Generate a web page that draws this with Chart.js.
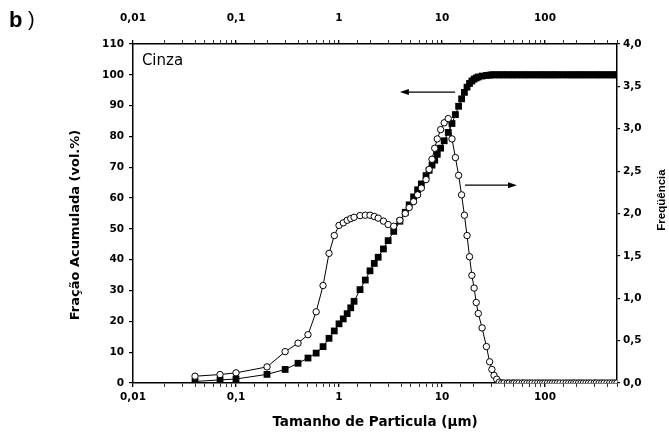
<!DOCTYPE html>
<html>
<head>
<meta charset="utf-8">
<script src="https://cdn.jsdelivr.net/npm/chart.js@4/dist/chart.umd.min.js"></script>
<style>
  body { margin: 0; background: #fff; }
  #chart { display: block; }
</style>
</head>
<body>
<canvas id="chart" width="669" height="439"></canvas>
<script>
// Tamanho de partícula (µm) - mesmo eixo para as duas séries
const sizes = [0.04, 0.07, 0.1, 0.2, 0.3, 0.4, 0.5, 0.6, 0.7, 0.8, 0.9,
  1.0, 1.1, 1.2, 1.3, 1.4, 1.6, 1.8, 2.0, 2.2, 2.4,
  2.7, 3.0, 3.4, 3.9, 4.4, 4.8, 5.3, 5.8, 6.3, 7.0,
  7.5, 8.0, 8.5, 9.0, 9.7, 10.5, 11.5, 12.5, 13.5, 14.5,
  15.5, 16.5, 17.5, 18.5, 19.5, 20.5, 21.5, 22.5, 24.5, 27,
  29, 30.5, 32, 34, 36,
  38, 40, 43, 45, 48, 50, 53, 56, 60, 63,
  67, 71, 75, 80, 85, 90, 95, 100, 106, 112,
  118, 125, 132, 140, 150, 160, 170, 180, 190, 200,
  212, 224, 236, 250, 265, 280, 300, 315, 335, 355,
  375, 400, 425, 450, 475, 500];

// Fração acumulada (vol.%)
const cumulative = [0.5, 1.0, 1.3, 2.8, 4.4, 6.4, 8.1, 9.7, 11.8, 14.5, 16.9,
  19.2, 20.8, 22.5, 24.4, 26.5, 30.3, 33.4, 36.4, 38.8, 40.8,
  43.5, 46.2, 49.2, 52.5, 55.4, 57.8, 60.4, 62.7, 64.6, 67.3,
  69.0, 70.7, 72.3, 74.2, 76.2, 78.6, 81.3, 84.2, 87.1, 89.8,
  92.2, 94.3, 96.0, 97.2, 98.0, 98.6, 99.0, 99.3, 99.6, 99.8,
  99.9, 100, 100, 100, 100,
  100, 100, 100, 100, 100, 100, 100, 100, 100, 100,
  100, 100, 100, 100, 100, 100, 100, 100, 100, 100,
  100, 100, 100, 100, 100, 100, 100, 100, 100, 100,
  100, 100, 100, 100, 100, 100, 100, 100, 100, 100,
  100, 100, 100, 100, 100, 100];

// Freqüência
const frequency = [0.08, 0.10, 0.12, 0.19, 0.37, 0.47, 0.57, 0.84, 1.15, 1.53, 1.74,
  1.86, 1.89, 1.92, 1.94, 1.955, 1.975, 1.98, 1.98, 1.965, 1.945,
  1.91, 1.87, 1.85, 1.92, 2.0, 2.07, 2.14, 2.22, 2.30, 2.40,
  2.52, 2.64, 2.77, 2.88, 2.99, 3.07, 3.12, 2.88, 2.66, 2.45,
  2.22, 1.98, 1.74, 1.49, 1.27, 1.12, 0.95, 0.82, 0.65, 0.43,
  0.25, 0.16, 0.09, 0.045, 0.01,
  0, 0, 0, 0, 0, 0, 0, 0, 0, 0,
  0, 0, 0, 0, 0, 0, 0, 0, 0, 0,
  0, 0, 0, 0, 0, 0, 0, 0, 0, 0,
  0, 0, 0, 0, 0, 0, 0, 0, 0, 0,
  0, 0, 0, 0, 0, 0];

// Ticks dos eixos
const xMin = 0.01, xMax = 500;
const leftTicks = { min: 0, max: 110, step: 10 };
const rightTicks = { min: 0, max: 4, step: 0.5 };

// Anotações (em unidades dos eixos x / y esquerdo)
const labelCinza = { x: 0.0122, y: 104.5, text: 'Cinza' };
const arrowLeft = { from: 13.4, to: 3.9, y: 94.4 };
const arrowRight = { from: 16.7, to: 53.5, y: 64.2 };

const FONT = "'Liberation Sans', Arial, sans-serif";
const WIDE = "'DejaVu Sans', sans-serif";

function decadeLabel(v) {
  const e = Math.log10(v);
  if (Math.abs(e - Math.round(e)) < 1e-6) return String(v).replace('.', ',');
  return '';
}

function isDecade(v) {
  const e = Math.log10(v);
  return Math.abs(e - Math.round(e)) < 1e-6;
}

// Textos e setas extras
const extras = {
  id: 'extras',
  beforeDraw(chart) {
    const c = chart.ctx;
    c.save();
    c.fillStyle = '#fff';
    c.fillRect(0, 0, chart.width, chart.height);
    c.restore();
  },
  afterDraw(chart) {
    const c = chart.ctx;
    const x = chart.scales.x, y = chart.scales.y;
    c.save();
    c.fillStyle = '#000';
    c.strokeStyle = '#000';

    // b)
    c.font = 'bold 22px ' + FONT;
    c.textBaseline = 'alphabetic';
    c.textAlign = 'left';
    c.fillText('b', 9, 27);
    c.font = '20px ' + FONT;
    c.fillText(')', 28, 26);

    // Cinza
    c.font = '15px ' + WIDE;
    c.textBaseline = 'middle';
    c.fillText(labelCinza.text, x.getPixelForValue(labelCinza.x), y.getPixelForValue(labelCinza.y));

    // Títulos verticais
    c.font = 'bold 13px ' + WIDE;
    c.textAlign = 'center';
    c.save();
    c.translate(76, 225);
    c.rotate(-Math.PI / 2);
    c.fillText('Fração Acumulada (vol.%)', 0, 0);
    c.restore();

    c.font = 'bold 11.5px ' + FONT;
    c.save();
    c.translate(662, 200);
    c.rotate(-Math.PI / 2);
    c.fillText('Freqüência', 0, 0);
    c.restore();

    // Setas
    [arrowLeft, arrowRight].forEach(a => {
      const x1 = x.getPixelForValue(a.from), x2 = x.getPixelForValue(a.to);
      const py = y.getPixelForValue(a.y);
      const dir = Math.sign(x2 - x1);
      c.lineWidth = 1.2;
      c.beginPath();
      c.moveTo(x1, py);
      c.lineTo(x2 - dir * 6, py);
      c.stroke();
      c.beginPath();
      c.moveTo(x2, py);
      c.lineTo(x2 - dir * 9, py - 3);
      c.lineTo(x2 - dir * 9, py + 3);
      c.closePath();
      c.fill();
    });
    c.restore();
  }
};

const tickFont = { family: WIDE, size: 10.5, weight: 'bold' };

const logGrid = {
  display: true,
  drawOnChartArea: false,
  drawTicks: true,
  tickLength: 4,
  color: '#000',
  lineWidth: (ctx) => (ctx.tick && isDecade(ctx.tick.value) ? 1.3 : 0.8)
};

const chart = new Chart(document.getElementById('chart'), {
  type: 'scatter',
  data: {
    datasets: [
      {
        label: 'Freqüência',
        data: sizes.map((s, i) => ({ x: s, y: frequency[i] })),
        xAxisID: 'x',
        yAxisID: 'y2',
        showLine: true,
        order: 1,
        borderColor: '#000',
        borderWidth: 1,
        backgroundColor: '#fff',
        pointStyle: 'circle',
        pointRadius: 3.2,
        pointBorderWidth: 1,
        pointBorderColor: '#000',
        pointBackgroundColor: '#fff'
      },
      {
        label: 'Fração Acumulada',
        data: sizes.map((s, i) => ({ x: s, y: cumulative[i] })),
        xAxisID: 'x',
        yAxisID: 'y',
        showLine: true,
        order: 2,
        borderColor: '#000',
        borderWidth: 1,
        backgroundColor: '#000',
        pointStyle: 'rect',
        pointRadius: 4.8,
        pointBorderWidth: 0,
        pointBackgroundColor: '#000'
      }
    ]
  },
  options: {
    responsive: false,
    animation: false,
    layout: { padding: 0 },
    plugins: {
      legend: { display: false },
      tooltip: { enabled: false }
    },
    scales: {
      x: {
        type: 'logarithmic',
        position: 'bottom',
        min: xMin,
        max: xMax,
        afterFit: (s) => { s.height = 56; },
        border: { display: true, color: '#000', width: 1.5 },
        grid: logGrid,
        ticks: {
          autoSkip: false,
          maxRotation: 0,
          padding: 4,
          color: '#000',
          font: tickFont,
          callback: decadeLabel
        },
        title: {
          display: true,
          text: 'Tamanho de Particula (µm)',
          color: '#000',
          font: { family: WIDE, size: 13.5, weight: 'bold' },
          padding: { top: 0, bottom: 8 }
        }
      },
      x2: {
        type: 'logarithmic',
        axis: 'x',
        position: 'top',
        min: xMin,
        max: xMax,
        afterFit: (s) => { s.height = 44; },
        border: { display: true, color: '#000', width: 1.5 },
        grid: logGrid,
        ticks: {
          autoSkip: false,
          maxRotation: 0,
          padding: 15,
          color: '#000',
          font: tickFont,
          callback: decadeLabel
        }
      },
      y: {
        type: 'linear',
        position: 'left',
        min: leftTicks.min,
        max: leftTicks.max,
        afterFit: (s) => { s.width = 133; },
        border: { display: true, color: '#000', width: 1.5 },
        grid: { display: true, drawOnChartArea: false, tickLength: 4, color: '#000', lineWidth: 1.2 },
        ticks: {
          stepSize: leftTicks.step,
          padding: 5,
          color: '#000',
          font: tickFont
        }
      },
      y2: {
        type: 'linear',
        position: 'right',
        min: rightTicks.min,
        max: rightTicks.max,
        afterFit: (s) => { s.width = 52; },
        border: { display: true, color: '#000', width: 1.5 },
        grid: { display: true, drawOnChartArea: false, tickLength: 3, color: '#000', lineWidth: 1.2 },
        ticks: {
          stepSize: rightTicks.step,
          padding: 3,
          color: '#000',
          font: tickFont,
          callback: (v) => v.toFixed(1).replace('.', ',')
        }
      }
    }
  },
  plugins: [extras]
});
</script>
</body>
</html>
